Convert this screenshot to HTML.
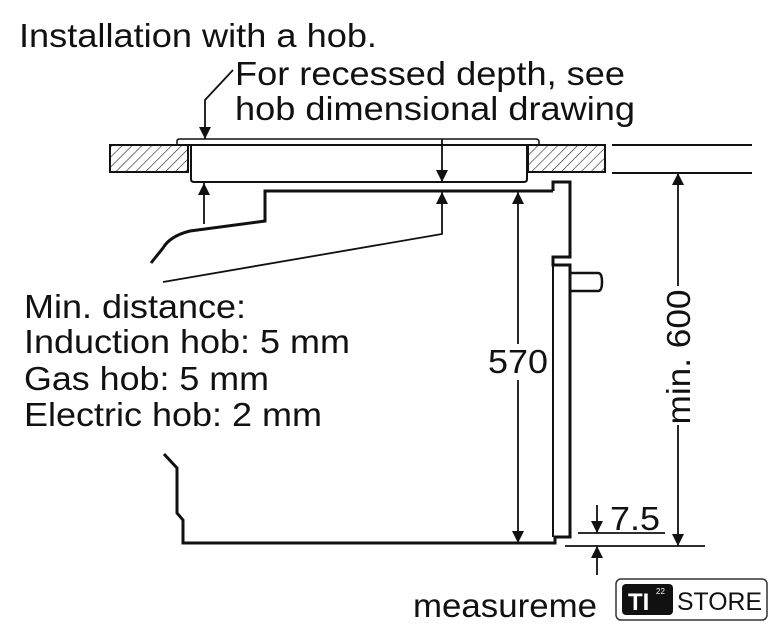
<!DOCTYPE html>
<html><head><meta charset="utf-8"><style>
html,body{margin:0;padding:0;background:#fff;}
svg{display:block;}
text{font-family:"Liberation Sans",Arial,sans-serif;fill:#111;}
</style></head><body>
<svg width="778" height="640" viewBox="0 0 778 640" xmlns="http://www.w3.org/2000/svg">
<defs>
<pattern id="h" width="7" height="7" patternUnits="userSpaceOnUse" patternTransform="rotate(45)">
<line x1="0" y1="0" x2="0" y2="7" stroke="#222" stroke-width="1.2"/>
</pattern>
<marker id="a" viewBox="0 0 10 10" refX="10" refY="5" markerWidth="16" markerHeight="12" markerUnits="userSpaceOnUse" orient="auto">
<path d="M0,0 L10,5 L0,10 z" fill="#111"/>
</marker>
</defs>
<g font-size="33">
<text x="19" y="47" textLength="358" lengthAdjust="spacingAndGlyphs">Installation with a hob.</text>
<text x="235" y="85" textLength="390" lengthAdjust="spacingAndGlyphs">For recessed depth, see</text>
<text x="235" y="120" textLength="400" lengthAdjust="spacingAndGlyphs">hob dimensional drawing</text>
<text x="24" y="318" textLength="222" lengthAdjust="spacingAndGlyphs">Min. distance:</text>
<text x="24" y="353" textLength="326" lengthAdjust="spacingAndGlyphs">Induction hob: 5 mm</text>
<text x="24" y="390" textLength="245" lengthAdjust="spacingAndGlyphs">Gas hob: 5 mm</text>
<text x="24" y="426" textLength="298" lengthAdjust="spacingAndGlyphs">Electric hob: 2 mm</text>
<text x="413" y="617" textLength="184" lengthAdjust="spacingAndGlyphs">measureme</text>
<text x="610" y="530" textLength="50" lengthAdjust="spacingAndGlyphs">7.5</text>
</g>
<rect x="110" y="145" width="78" height="27" fill="url(#h)" stroke="#111" stroke-width="2"/>
<rect x="528" y="145" width="77" height="27" fill="url(#h)" stroke="#111" stroke-width="2"/>
<line x1="612" y1="145" x2="752" y2="145" stroke="#111" stroke-width="2"/>
<line x1="612" y1="173" x2="752" y2="173" stroke="#111" stroke-width="2"/>
<path d="M177,145 L177,141 Q177,139 180,139 L536,139 Q539,139 539,142 L539,145" fill="none" stroke="#111" stroke-width="1.5"/>
<path d="M191,145 L191,179 Q191,182 194,182 L524,182 Q527,182 527,179 L527,145 Z" fill="#fff" stroke="#111" stroke-width="2"/>
<line x1="177" y1="145" x2="539" y2="145" stroke="#111" stroke-width="2"/>
<path d="M151,263 L163,248 Q170,236 190,231 L265,221 L265,191 L553,191" fill="none" stroke="#111" stroke-width="3"/>
<path d="M553,191 L553,182 L570,182 L570,257 L553,257 L553,265 L570,265 L570,537 L555,537 L555,543 L183,543 L183,520 L177,513 L177,468 L164,454" fill="none" stroke="#111" stroke-width="3"/>
<line x1="553" y1="265" x2="553" y2="537" stroke="#111" stroke-width="2"/>
<path d="M571,273 L598,273 Q602,273 602,282 Q602,291 598,291 L571,291" fill="none" stroke="#111" stroke-width="2.5"/>
<g stroke="#111" stroke-width="1.8" fill="none">
<polyline points="233,70 205,100 205,139" marker-end="url(#a)"/>
<line x1="442" y1="139" x2="442" y2="182" marker-end="url(#a)"/>
<line x1="204" y1="224" x2="204" y2="183" marker-end="url(#a)"/>
<polyline points="163,282 442,234 442,192" marker-end="url(#a)"/>
<line x1="518" y1="344" x2="518" y2="192" marker-end="url(#a)"/>
<line x1="518" y1="380" x2="518" y2="543" marker-end="url(#a)"/>
<line x1="678" y1="286" x2="678" y2="173" marker-end="url(#a)"/>
<line x1="678" y1="425" x2="678" y2="546" marker-end="url(#a)"/>
<line x1="578" y1="533" x2="665" y2="533"/>
<line x1="565" y1="546" x2="705" y2="546"/>
<line x1="597" y1="505" x2="597" y2="533" marker-end="url(#a)"/>
<line x1="597" y1="575" x2="597" y2="546" marker-end="url(#a)"/>
</g>
<text x="518" y="373" font-size="33" text-anchor="middle" textLength="60" lengthAdjust="spacingAndGlyphs">570</text>
<text transform="translate(690,357) rotate(-90)" font-size="33" text-anchor="middle" textLength="135" lengthAdjust="spacingAndGlyphs">min. 600</text>
<rect x="616" y="579" width="151" height="41" rx="5" fill="#fff" stroke="#333" stroke-width="1.5"/>
<rect x="622" y="584" width="51" height="31" rx="4" fill="#111"/>
<text x="628" y="610" font-size="24" font-weight="bold" style="fill:#fff">TI</text>
<text x="656" y="594" font-size="8" style="fill:#fff">22</text>
<text x="677" y="610" font-size="25" textLength="85" lengthAdjust="spacingAndGlyphs">STORE</text>
</svg>
</body></html>
